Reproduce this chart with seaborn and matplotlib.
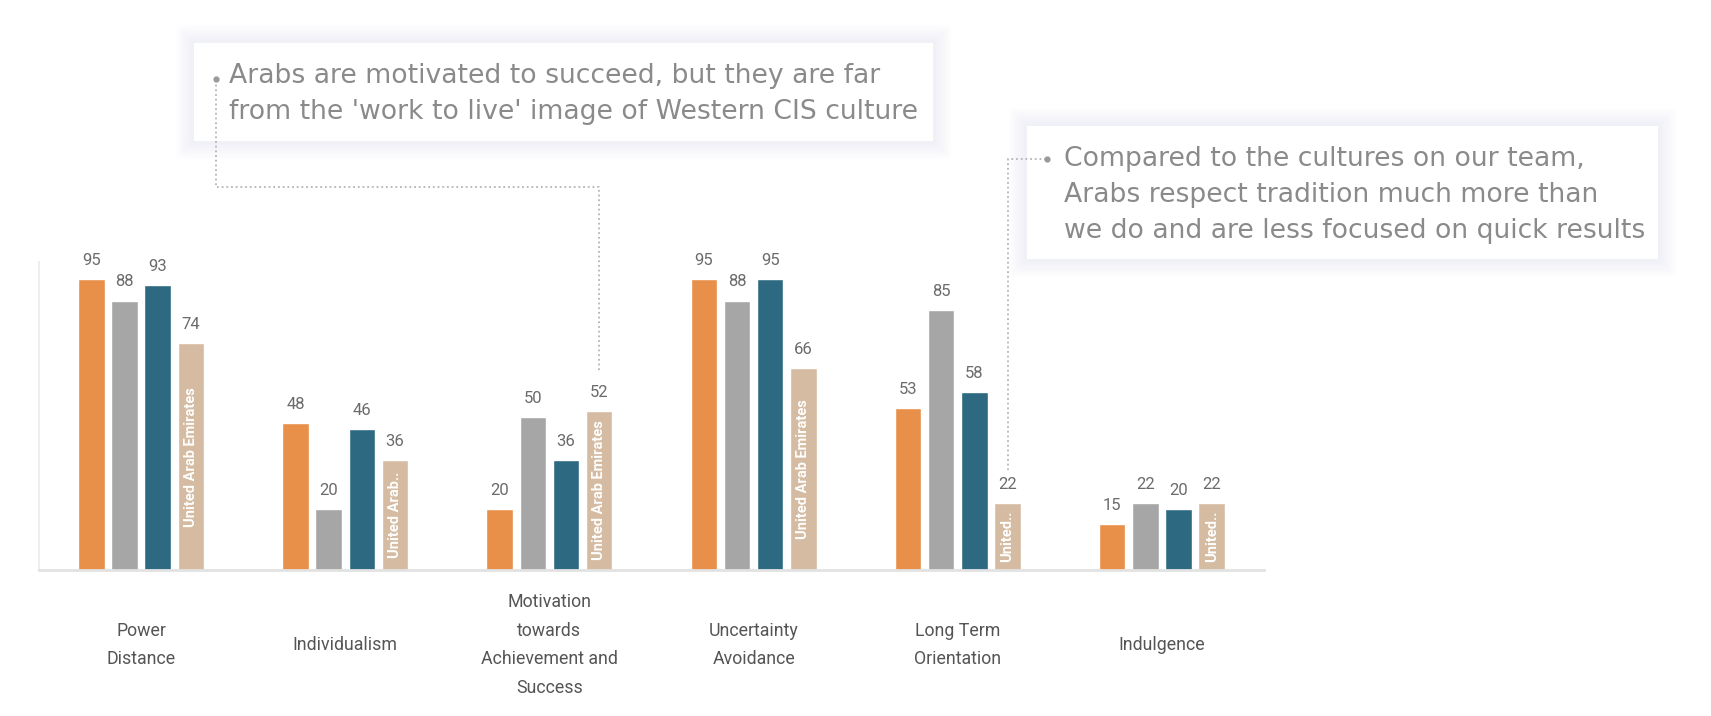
import pandas as pd
import matplotlib
matplotlib.use("Agg")
from matplotlib import pyplot as plt
from matplotlib.patches import FancyBboxPatch
from matplotlib.lines import Line2D
import seaborn as sns

# chart data
dimensions = ['Power\nDistance', 'Individualism',
              'Motivation\ntowards\nAchievement and\nSuccess',
              'Uncertainty\nAvoidance', 'Long Term\nOrientation', 'Indulgence']
series_names = ['Culture A', 'Culture B', 'Russia', 'United Arab Emirates']
culture_a = [95, 48, 20, 95, 53, 15]
culture_b = [88, 20, 50, 88, 85, 22]
russia = [93, 46, 36, 95, 58, 20]
uae = [74, 36, 52, 66, 22, 22]
uae_bar_labels = ['United Arab Emirates', 'United Arab..', 'United Arab Emirates',
                  'United Arab Emirates', 'United..', 'United..']
palette = ['#E8904A', '#A6A6A6', '#2E6982', '#D4BBA1']

note_1 = "Arabs are motivated to succeed, but they are far\nfrom the 'work to live' image of Western CIS culture"
note_2 = ("Compared to the cultures on our team,\n"
          "Arabs respect tradition much more than\n"
          "we do and are less focused on quick results")

rows = []
for name, vals in zip(series_names, [culture_a, culture_b, russia, uae]):
    for dim, v in zip(dimensions, vals):
        rows.append({'dimension': dim, 'series': name, 'score': v})
df = pd.DataFrame(rows)

sns.set_theme(style='white')
plt.rcParams['font.family'] = ['Roboto', 'DejaVu Sans']

W, H = 1711, 716
fig = plt.figure(figsize=(W / 100, H / 100), dpi=100)
fig.patch.set_facecolor('white')
ax = fig.add_axes([39 / W, 146 / H, 1225 / W, 308 / H])

sns.barplot(data=df, x='dimension', y='score', hue='series', palette=palette,
            saturation=1, width=0.65, gap=0.2, legend=False, ax=ax)

ax.set_xlim(-0.5, 5.5)
ax.set_ylim(0, 100.6)
ax.set_xlabel('')
ax.set_ylabel('')
ax.set_yticks([])
for s in ['top', 'right']:
    ax.spines[s].set_visible(False)
ax.spines['left'].set_color('#eeeeee')
ax.spines['left'].set_linewidth(1.5)
ax.spines['bottom'].set_color('#e2e2e2')
ax.spines['bottom'].set_linewidth(2)
ax.tick_params(axis='x', length=0, pad=54, labelsize=12.8, labelcolor='#555555')
for lab in ax.get_xticklabels():
    lab.set_verticalalignment('center')
    lab.set_linespacing(1.76)

for cont in ax.containers:
    ax.bar_label(cont, padding=8, fontsize=12, color='#6b6b6b')

# series name written inside the UAE bars, centred in each bar
for patch, lab in zip(ax.containers[3], uae_bar_labels):
    cx = patch.get_x() + patch.get_width() / 2
    ax.text(cx, patch.get_height() / 2, lab, rotation=90, ha='center', va='center',
            color='white', fontsize=10.5, fontweight='semibold')


def fx(x):
    return x / W


def fy(y):
    return 1 - y / H


def note_box(x0, y0, x1, y1):
    for i in range(8):
        g = 18 - i * 2.2
        fig.add_artist(FancyBboxPatch((fx(x0 - g), fy(y1 + g)), (x1 - x0 + 2 * g) / W,
                                      (y1 - y0 + 2 * g) / H, boxstyle='round,pad=0,rounding_size=0.004',
                                      transform=fig.transFigure, facecolor='#d8d8e6',
                                      edgecolor='none', alpha=0.04, zorder=1))
    fig.add_artist(FancyBboxPatch((fx(x0), fy(y1)), (x1 - x0) / W, (y1 - y0) / H,
                                  boxstyle='square,pad=0', transform=fig.transFigure,
                                  facecolor='white', edgecolor='none', zorder=1.5))


note_box(194, 43, 933, 141)
note_box(1027, 126, 1658, 259)

note_font = ['DejaVu Sans']
fig.text(fx(229), fy(94), note_1, ha='left', va='center', fontsize=19.2,
         color='#8a8a8a', linespacing=1.48, family=note_font, zorder=3)
fig.text(fx(1064), fy(195), note_2, ha='left', va='center', fontsize=19.2,
         color='#8a8a8a', linespacing=1.48, family=note_font, zorder=3)


def bar_top_px(idx):
    p = ax.containers[3][idx]
    cx = p.get_x() + p.get_width() / 2
    x, y = ax.transData.transform((cx, p.get_height()))
    return x, H - y


line_kw = dict(transform=fig.transFigure, color='#b4b4b4', linewidth=1.3,
               linestyle=(0, (1, 1.6)), zorder=2)

# leader from note 1 to the motivation UAE bar
bx, by = bar_top_px(2)
xs = [216, 216, bx, bx]
ys = [80, 187, 187, by - 38]
fig.add_artist(Line2D([fx(v) for v in xs], [fy(v) for v in ys], **line_kw))
fig.add_artist(Line2D([fx(216)], [fy(79)], marker='o', markersize=3.5,
                      color='#9a9a9a', transform=fig.transFigure, zorder=3))

# leader from note 2 to the long term orientation UAE bar
bx, by = bar_top_px(4)
xs = [1046, bx, bx]
ys = [159, 159, by - 33]
fig.add_artist(Line2D([fx(v) for v in xs], [fy(v) for v in ys], **line_kw))
fig.add_artist(Line2D([fx(1047)], [fy(159)], marker='o', markersize=3.5,
                      color='#9a9a9a', transform=fig.transFigure, zorder=3))

fig.savefig('out.png', dpi=100, facecolor='white')
